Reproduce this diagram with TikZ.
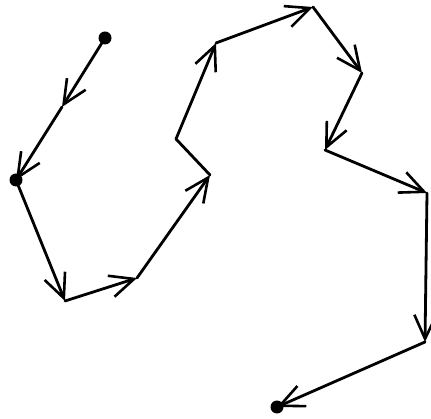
\documentclass[tikz,border=0pt]{standalone}
\usetikzlibrary{arrows.meta}
\begin{document}
\begin{tikzpicture}[x=1pt,y=-1pt,
  seg/.style={line width=2.8pt, line cap=round, line join=round},
  arr/.style={seg, -{Straight Barb[length=24pt, width=22pt, line width=2.6pt]}},
  dotmark/.style={circle, fill=black, inner sep=0pt, minimum size=13pt}]
\useasboundingbox (0,0) rectangle (431,419);
\fill[white] (0,0) rectangle (431,419);
\coordinate (a) at (105,38);
\coordinate (m) at (62,107);
\coordinate (b) at (16,180);
\coordinate (c) at (65,301);
\coordinate (d) at (137,278);
\coordinate (e) at (210,175);
\coordinate (f) at (176,139);
\coordinate (g) at (216,43);
\coordinate (h) at (313,7);
\coordinate (i) at (362,73);
\coordinate (j) at (325,150);
\coordinate (k) at (427,193);
\coordinate (l) at (425,342);
\coordinate (n) at (277,407);
\draw[arr] (a) -- (m);
\draw[arr] (m) -- (b);
\draw[arr] (b) -- (c);
\draw[arr] (c) -- (d);
\draw[arr] (d) -- (e);
\draw[seg] (e) -- (f);
\draw[arr] (f) -- (g);
\draw[arr] (g) -- (h);
\draw[arr] (h) -- (i);
\draw[arr] (i) -- (j);
\draw[arr] (j) -- (k);
\draw[arr] (k) -- (l);
\draw[arr] (l) -- (n);
\node[dotmark] (da) at (a) {};
\node[dotmark] (db) at (b) {};
\node[dotmark] (dn) at (n) {};
\end{tikzpicture}
\end{document}
